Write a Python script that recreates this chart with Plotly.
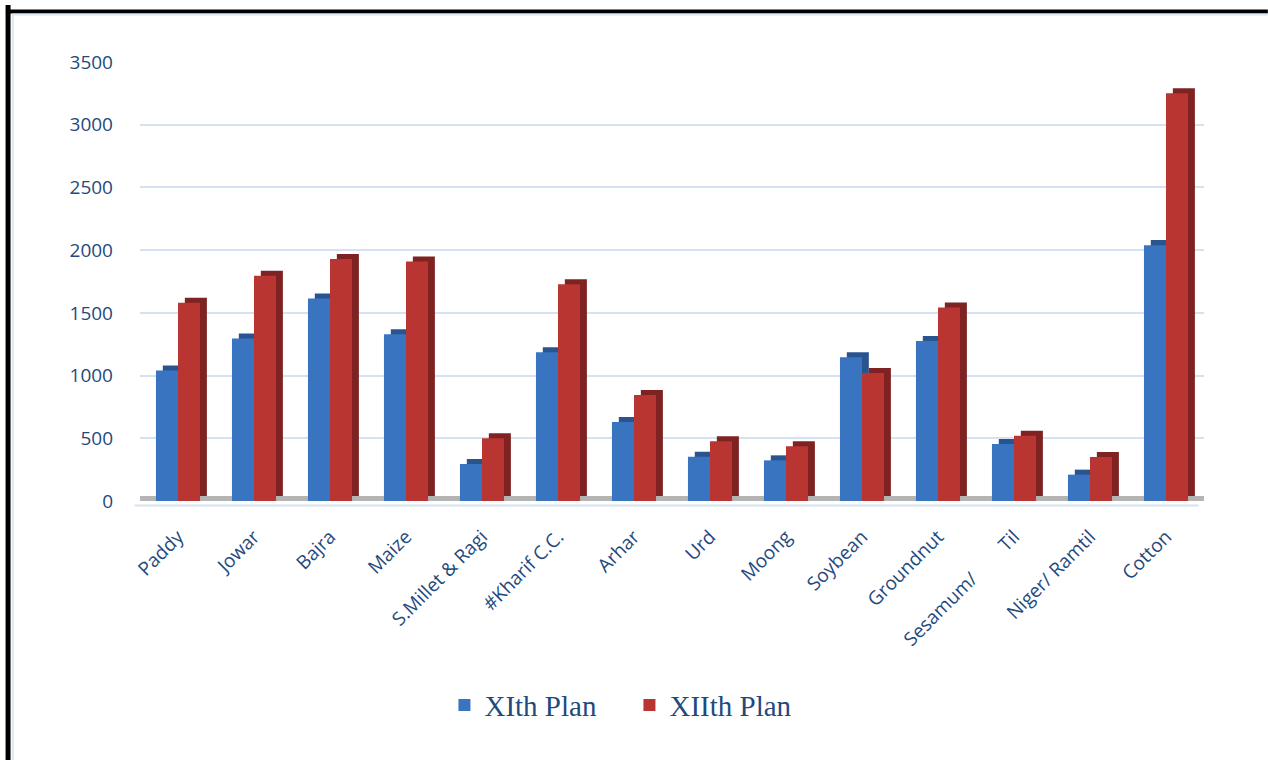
import plotly.graph_objects as go

categories = ["Paddy", "Jowar", "Bajra", "Maize", "S.Millet & Ragi", "#Kharif C.C.",
              "Arhar", "Urd", "Moong", "Soybean", "Groundnut", "Sesamum/        Til",
              "Niger/ Ramtil", "Cotton"]
xith_plan = [1040, 1295, 1615, 1330, 295, 1185, 630, 353, 324, 1146, 1276, 455, 210, 2040]
xiith_plan = [1580, 1795, 1930, 1910, 500, 1728, 845, 476, 436, 1021, 1542, 521, 351, 3250]
y_ticks = [0, 500, 1000, 1500, 2000, 2500, 3000, 3500]

series_names = ["XIth Plan", "XIIth Plan"]
front_colors = ["#3874C0", "#B93532"]
depth_colors = ["#2A5490", "#7E2222"]

BAR_W = 0.29
DEPTH_X = 0.09
DEPTH_Y = 40

fig = go.Figure()
for i, (name, vals) in enumerate(zip(series_names, [xith_plan, xiith_plan])):
    off = -BAR_W if i == 0 else 0.0
    fig.add_trace(go.Bar(
        x=categories, y=vals, base=DEPTH_Y, offset=off + DEPTH_X, width=BAR_W,
        marker=dict(color=depth_colors[i], line=dict(width=0)),
        showlegend=False, hoverinfo="skip"))
    fig.add_trace(go.Bar(
        x=categories, y=vals, name=name, offset=off, width=BAR_W,
        marker=dict(color=front_colors[i], line=dict(width=0))))

fig.update_layout(
    width=1268, height=760,
    barmode="overlay",
    paper_bgcolor="white", plot_bgcolor="white",
    margin=dict(l=140, r=64, t=62, b=259),
    font=dict(family="Open Sans", color="#1F4A7E"),
    legend=dict(orientation="h", x=0.46, xanchor="center", y=-0.465, yanchor="middle",
                font=dict(family="Liberation Serif", size=29, color="#1F4A7E"),
                itemwidth=30, traceorder="normal",
                entrywidth=140, entrywidthmode="pixels"),
    shapes=[
        dict(type="rect", xref="x", yref="y", x0=-0.5, x1=13.62, y0=0, y1=DEPTH_Y,
             fillcolor="#B4B4B4", line=dict(width=0), layer="below"),
        dict(type="line", xref="paper", yref="paper", x0=-0.005, x1=0.995, y0=-0.01, y1=-0.01,
             line=dict(color="#D6E2F2", width=2), layer="below"),
        dict(type="line", xref="paper", yref="paper", x0=-0.124, x1=-0.124, y0=-0.6, y1=1.13,
             line=dict(color="black", width=5)),
        dict(type="line", xref="paper", yref="paper", x0=-0.126, x1=1.06, y0=1.115, y1=1.115,
             line=dict(color="black", width=4)),
        dict(type="line", xref="paper", yref="paper", x0=-0.1195, x1=-0.1195, y0=-0.6, y1=1.108,
             line=dict(color="#DCE6F4", width=2)),
        dict(type="line", xref="paper", yref="paper", x0=-0.12, x1=1.06, y0=1.108, y1=1.108,
             line=dict(color="#DCE6F4", width=2)),
    ],
)
fig.update_xaxes(
    tickangle=-45, tickfont=dict(size=19, color="#1F4A7E", family="Open Sans"),
    showgrid=False, showline=False, zeroline=False, ticklabelstandoff=20,
    range=[-0.5, 13.5])
fig.update_yaxes(
    range=[0, 3500], tickvals=y_ticks, ticktext=[str(v) for v in y_ticks],
    tickfont=dict(size=19, color="#1F4A7E", family="Open Sans"),
    showgrid=True, gridcolor="#D6E2F2", gridwidth=2,
    zeroline=False, showline=False, ticklabelstandoff=26)

fig.write_html("out.html")
